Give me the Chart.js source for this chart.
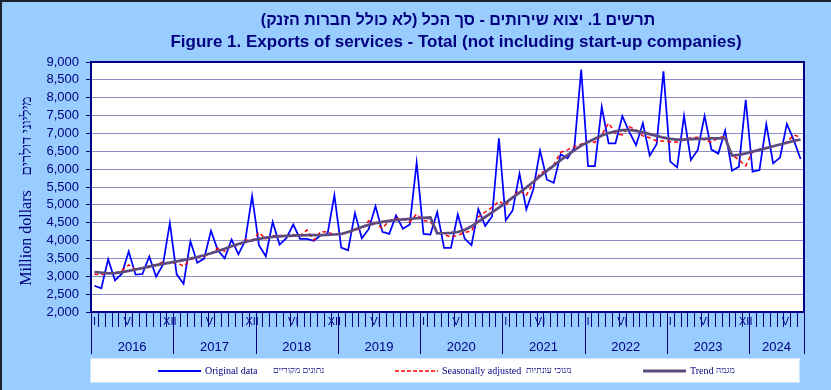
<!DOCTYPE html>
<html>
<head>
<meta charset="utf-8">
<script src="https://cdn.jsdelivr.net/npm/chart.js@4"></script>
<style>
  html, body { margin: 0; padding: 0; background: #99ccff; }
  #wrap { width: 831px; height: 390px; }
</style>
</head>
<body>
<div id="wrap"><canvas id="exportsChart" width="831" height="390"></canvas></div>
<script>
// titles
const titleHe = 'תרשים 1. יצוא שירותים - סך הכל (לא כולל חברות הזנק)';
const titleEn = 'Figure 1. Exports of services - Total (not including start-up companies)';

// x axis: years and month marks (Jan 2016 - Aug 2024)
const years = ['2016', '2017', '2018', '2019', '2020', '2021', '2022', '2023', '2024'];
const monthsInYear = [12, 12, 12, 12, 12, 12, 12, 12, 8];
const monthMarks = [
    'I', '', '', '', '', 'VI', '', '', '', '', '', 'XII',
    '', '', '', '', '', 'VI', '', '', '', '', '', 'XII',
    '', '', '', '', '', 'VI', '', '', '', '', '', 'XII',
    '', '', '', '', '', 'VI', '', '', '', '', '', '',
    'I', '', '', '', '', 'VI', '', '', '', '', '', '',
    'I', '', '', '', '', 'VI', '', '', '', '', '', '',
    'I', '', '', '', '', 'VI', '', '', '', '', '', '',
    'I', '', '', '', '', 'VI', '', '', '', '', '', 'XII',
    '', '', '', '', '', 'VI', '', ''
];

// series, million dollars
const originalData = [
    2736, 2661, 3476, 2886, 3073, 3691, 3045, 3064, 3551, 2989, 3326, 4496,
    3054, 2792, 3981, 3382, 3495, 4272, 3729, 3504, 4028, 3616, 4000, 5245,
    3869, 3560, 4525, 3888, 4066, 4450, 4047, 4047, 3991, 4150, 4178, 5274,
    3804, 3729, 4768, 4066, 4318, 4964, 4244, 4187, 4702, 4328, 4450, 6182,
    4187, 4169, 4796, 3794, 3794, 4730, 4056, 3869, 4880, 4412, 4674, 6865,
    4571, 4843, 5873, 4871, 5423, 6519, 5704, 5620, 6416, 6303, 6600, 8785,
    6088, 6088, 7745, 6725, 6725, 7483, 7053, 6669, 7286, 6378, 6697, 8738,
    6210, 6050, 7493, 6257, 6538, 7493, 6547, 6435, 7081, 5957, 6069, 7942,
    5929, 5976, 7258, 6163, 6322, 7268, 6818, 6284
];
const seasonalData = [
    3060, 3040, 3100, 3090, 3160, 3320, 3190, 3230, 3290, 3330, 3400, 3360,
    3390, 3280, 3470, 3530, 3560, 3640, 3790, 3700, 3870, 3850, 4020, 3980,
    4230, 4050, 4130, 4150, 4110, 4170, 4130, 4300, 4010, 4250, 4240, 4160,
    4190, 4210, 4300, 4330, 4550, 4500, 4340, 4560, 4620, 4600, 4520, 4740,
    4560, 4530, 4270, 4170, 4100, 4140, 4230, 4260, 4660, 4800, 4930, 5100,
    4990, 5230, 5410, 5270, 5600, 5880, 5980, 6120, 6470, 6540, 6630, 6700,
    6770, 6750, 6960, 7290, 7000, 6960, 7190, 7100, 6930, 6880, 6790, 6790,
    6770, 6750, 6820, 6880, 6890, 6820, 6750, 6880, 6920, 6400, 6260, 6090,
    6490, 6560, 6600, 6650, 6680, 6760, 6960, 6890
];
const trendData = [
    3120, 3100, 3085, 3090, 3115, 3150, 3190, 3230, 3270, 3310, 3350, 3385,
    3420, 3455, 3495, 3540, 3590, 3645, 3705, 3770, 3840, 3905, 3960, 4010,
    4050, 4080, 4105, 4120, 4130, 4140, 4145, 4150, 4150, 4155, 4160, 4170,
    4185, 4240, 4310, 4380, 4440, 4490, 4525, 4555, 4575, 4595, 4610, 4625,
    4635, 4645, 4200, 4205, 4215, 4240, 4300, 4400, 4530, 4660, 4790, 4920,
    5060, 5200, 5340, 5490, 5640, 5800, 5950, 6100, 6250, 6390, 6530, 6660,
    6760, 6850, 6940, 7010, 7060, 7090, 7100, 7070, 7030, 6980, 6930, 6880,
    6850, 6830, 6830, 6840, 6845, 6850, 6860, 6860, 6870, 6380, 6400, 6440,
    6490, 6540, 6590, 6640, 6690, 6740, 6790, 6830
];

const navy = '#000080';
const sans = 'Arial, "Liberation Sans", sans-serif';
const serif = '"Times New Roman", "Liberation Serif", serif';

// titles, axis title, month/year axis, legend and frame
const decorPlugin = {
    id: 'decor',
    beforeDraw(chart) {
        const { ctx, chartArea: a, width, height } = chart;
        ctx.save();
        ctx.fillStyle = '#99ccff';
        ctx.fillRect(0, 0, width, height);
        ctx.fillStyle = '#ffffff';
        ctx.fillRect(a.left, a.top, a.right - a.left, a.bottom - a.top);
        ctx.fillStyle = '#20202c';
        ctx.fillRect(0, 0, 2, height);
        ctx.fillRect(0, 0, width, 2);
        ctx.restore();
    },
    afterDraw(chart) {
        const { ctx, chartArea: a } = chart;
        const x = chart.scales.x;
        ctx.save();

        // titles
        ctx.fillStyle = navy;
        ctx.textAlign = 'center';
        ctx.textBaseline = 'middle';
        ctx.font = 'bold 16px ' + sans;
        ctx.direction = 'rtl';
        ctx.fillText(titleHe, 458, 21);
        ctx.direction = 'ltr';
        ctx.font = 'bold 17px ' + sans;
        ctx.fillText(titleEn, 456, 42);

        // y axis title
        ctx.save();
        ctx.translate(27, 238);
        ctx.rotate(-Math.PI / 2);
        ctx.font = '16px ' + serif;
        ctx.fillText('Million dollars', 0, 0);
        ctx.restore();
        ctx.save();
        ctx.translate(27, 136);
        ctx.rotate(-Math.PI / 2);
        ctx.direction = 'rtl';
        ctx.font = '15px ' + serif;
        ctx.fillText('מיליוני דולרים', 0, 0);
        ctx.restore();

        // month ticks and year bands
        const half = (x.getPixelForValue(1) - x.getPixelForValue(0)) / 2;
        const n = originalData.length;
        ctx.strokeStyle = navy;
        ctx.lineWidth = 1;
        ctx.font = '11px ' + sans;
        for (let i = 0; i < n; i++) {
            const cx = x.getPixelForValue(i);
            if (monthMarks[i]) ctx.fillText(monthMarks[i], cx, a.bottom + 10);
            const bx = Math.round(cx - half) + 0.5;
            ctx.beginPath();
            ctx.moveTo(bx, a.bottom);
            ctx.lineTo(bx, a.bottom + 15);
            ctx.stroke();
        }
        let start = 0;
        ctx.font = '13px ' + sans;
        years.forEach((yr, k) => {
            const end = start + monthsInYear[k];
            const x0 = x.getPixelForValue(start) - half;
            const x1 = x.getPixelForValue(end - 1) + half;
            ctx.fillText(yr, (x0 + x1) / 2, a.bottom + 35);
            [x0, x1].forEach(bx => {
                ctx.beginPath();
                ctx.moveTo(Math.round(bx) + 0.5, a.bottom);
                ctx.lineTo(Math.round(bx) + 0.5, a.bottom + 42);
                ctx.stroke();
            });
            start = end;
        });

        // plot frame
        ctx.lineWidth = 2;
        ctx.strokeRect(a.left, a.top, a.right - a.left, a.bottom - a.top);

        // legend
        ctx.fillStyle = '#ffffff';
        ctx.fillRect(90, 358, 710, 25);
        ctx.strokeStyle = '#cfe6ff';
        ctx.lineWidth = 1;
        ctx.strokeRect(90.5, 358.5, 709, 24);
        const ly = 371;
        const items = [
            { x: 158, color: '#0000ff', dash: [], w: 2, en: 'Original data', he: 'נתונים מקוריים', hx: 273 },
            { x: 395, color: '#ff0000', dash: [4, 2], w: 1.5, en: 'Seasonally adjusted', he: 'מנוכי עונתיות', hx: 526 },
            { x: 643, color: '#5e4b7e', dash: [], w: 3, en: 'Trend', he: 'מגמה', hx: 716 }
        ];
        items.forEach(it => {
            ctx.strokeStyle = it.color;
            ctx.lineWidth = it.w;
            ctx.setLineDash(it.dash);
            ctx.beginPath();
            ctx.moveTo(it.x, ly);
            ctx.lineTo(it.x + 43, ly);
            ctx.stroke();
            ctx.setLineDash([]);
            ctx.fillStyle = navy;
            ctx.textAlign = 'left';
            ctx.direction = 'ltr';
            ctx.font = '10px ' + serif;
            ctx.fillText(it.en, it.x + 47, ly);
            ctx.direction = 'rtl';
            ctx.font = '9px ' + serif;
            ctx.textAlign = 'left';
            ctx.fillText(it.he, it.hx, ly);
        });
        ctx.restore();
    }
};

new Chart(document.getElementById('exportsChart').getContext('2d'), {
    type: 'line',
    data: {
        labels: monthMarks.map((m, i) => i),
        datasets: [
            {
                label: 'Original data',
                data: originalData,
                borderColor: '#0000ff',
                borderWidth: 1.75,
                pointRadius: 0,
                order: 3
            },
            {
                label: 'Seasonally adjusted',
                data: seasonalData,
                borderColor: '#ff0000',
                borderWidth: 1.5,
                borderDash: [4, 3],
                pointRadius: 0,
                order: 2
            },
            {
                label: 'Trend',
                data: trendData,
                borderColor: '#5e4b7e',
                borderWidth: 2.75,
                pointRadius: 0,
                order: 1
            }
        ]
    },
    options: {
        responsive: false,
        animation: false,
        layout: { padding: { left: 40, right: 27, top: 62, bottom: 78 } },
        plugins: {
            legend: { display: false },
            tooltip: { enabled: false }
        },
        scales: {
            x: {
                type: 'category',
                display: false,
                offset: true
            },
            y: {
                min: 2000,
                max: 9000,
                ticks: {
                    stepSize: 500,
                    maxTicksLimit: 20,
                    autoSkip: false,
                    color: navy,
                    padding: 7,
                    font: { family: sans, size: 13 }
                },
                grid: {
                    color: '#8d8dcc',
                    tickColor: navy,
                    tickLength: 5,
                    lineWidth: 1
                },
                border: { color: navy, width: 2 },
                afterFit(scale) { scale.width = 51; }
            }
        }
    },
    plugins: [decorPlugin]
});
</script>
</body>
</html>
